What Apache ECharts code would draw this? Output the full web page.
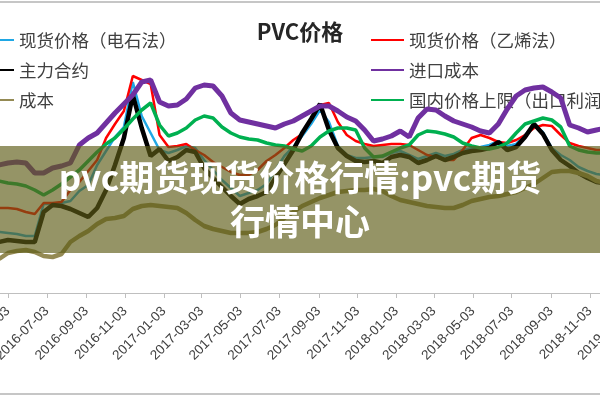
<!DOCTYPE html>
<html><head><meta charset="utf-8">
<script src="https://cdn.jsdelivr.net/npm/echarts@6/dist/echarts.min.js"></script>
<style>html,body{margin:0;padding:0;background:#fff}#c{width:600px;height:400px}</style>
</head><body><div id="c"></div>
<script>
// ---- data (sampled every 14 days starting 2016-04-19) ----
const sampleStart = '2016-04-19';
const sampleStepDays = 14;
const tickLabels = ['2016-03-03','2016-05-03','2016-07-03','2016-09-03','2016-11-03','2017-01-03','2017-03-03','2017-05-03','2017-07-03','2017-09-03','2017-11-03','2018-01-03','2018-03-03','2018-05-03','2018-07-03','2018-09-03','2018-11-03','2019-01-03'];
const seriesNames = ['现货价格（电石法）','现货价格（乙烯法）','主力合约','进口成本','成本','国内价格上限（出口利润为零）'];

const spotCarbide = [5220,5200,5180,5140,5140,5780,5780,5800,5840,6040,6160,6560,6840,7120,7320,8220,7540,7200,6860,6800,6860,6940,6900,6660,6460,6260,6100,5940,6000,6060,6180,6460,6740,6920,7140,7380,7660,7420,6940,6760,6700,6700,6720,6720,6800,6840,6760,6680,6740,6800,6740,6780,6860,6900,6920,6960,7040,6940,6980,7160,7360,7220,6900,6760,6660,6520,6440,6380,6360];
const spotEthylene = [5700,5700,5680,5620,5580,5800,5800,5820,6060,6220,6440,6660,7100,7380,7640,8340,8260,8180,7160,6920,6940,6980,6860,6760,6620,6520,6420,6360,6360,6460,6640,6760,6900,7060,7180,7460,7760,7800,7420,7160,7040,6980,6940,6960,6980,6980,6960,6860,6760,6720,6660,6660,6860,7100,7160,7100,7020,7000,7060,7160,7300,7360,7340,7160,7000,6940,6900,6860,6860];
const mainContract = [5020,5060,5040,5020,5020,5620,5760,5740,5680,5600,5520,5700,6060,6560,7100,7960,7300,6740,6880,6640,6720,6860,6820,6500,6300,6120,5940,5780,5880,5940,6020,6300,6580,6860,7200,7480,7780,7260,6900,6740,6640,6620,6640,6600,6720,6760,6720,6600,6660,6740,6660,6720,6800,6840,6860,6900,7020,6860,6920,7120,7380,7180,6860,6660,6540,6400,6300,6220,6200];
const importCost = [6560,6600,6620,6600,6400,6400,6500,6540,6600,6960,7100,7200,7400,7600,7780,7960,8220,8260,7820,7740,7760,7880,8100,8160,8140,7940,7600,7460,7420,7380,7340,7300,7380,7440,7540,7640,7740,7740,7640,7520,7440,7260,7040,7080,7140,7240,7120,7500,7680,7660,7540,7440,7380,7320,7240,7200,7380,7680,7940,8060,8100,8120,8020,7900,7360,7300,7220,7260,7300];
const productionCost = [4680,4800,4840,4860,4820,4740,4720,4780,5020,5140,5240,5380,5480,5500,5540,5680,5740,5760,5740,5720,5700,5600,5460,5340,5280,5240,5200,5200,5200,5220,5280,5360,5500,5620,5740,5820,5900,5960,6020,6040,6060,6060,6080,6040,5940,5860,5820,5780,5740,5720,5700,5700,5760,5840,5880,5920,5940,5980,6020,6100,6180,6300,6420,6440,6440,6400,6340,6240,6200];
const domesticCap = [6240,6200,6180,6140,6060,5960,6060,6180,6320,6460,6640,6820,6980,7100,7280,7480,7660,7800,7360,7140,7200,7300,7460,7540,7500,7320,7200,7120,7080,7060,7000,6960,6940,6880,6840,6940,7120,7240,7300,7300,7260,6900,6720,6740,6820,6900,6960,7160,7240,7220,7180,7120,7000,6940,6900,6880,6920,7000,7200,7380,7440,7500,7460,7320,6940,6860,6820,6800,6800];

// ---- helpers ----
function dayNum(s){const p=s.split('-').map(Number);return Date.UTC(p[0],p[1]-1,p[2])/86400000;}
const baseDay = dayNum('2016-05-03');
function fmt(dn){const d=new Date(dn*86400000);const m=d.getUTCMonth()+1,dd=d.getUTCDate();return d.getUTCFullYear()+'-'+(m<10?'0':'')+m+'-'+(dd<10?'0':'')+dd;}
const sampleDates = spotCarbide.map((_,k)=>fmt(dayNum(sampleStart)+k*sampleStepDays));
const sampleX = sampleDates.map(s=>dayNum(s)-baseDay);
const tickDays = tickLabels.map(s=>dayNum(s)-baseDay);
const labelMap = {}; tickLabels.forEach((s,i)=>{labelMap[tickDays[i]]=s;});
function pairs(arr){return arr.map((v,i)=>[sampleX[i],v]);}

const styles = [
  {c:'#1fa7e4', w:2.5},
  {c:'#ff0000', w:2.5},
  {c:'#000000', w:4.5},
  {c:'#7030a0', w:5},
  {c:'#948a54', w:4.5},
  {c:'#00b050', w:3.5}
];
const values = [spotCarbide, spotEthylene, mainContract, importCost, productionCost, domesticCap];
const order = [0,1,2,3,4,5];

const chart = echarts.init(document.getElementById('c'), null, {renderer:'canvas'});
const legendText = {fontSize:17.5, color:'#404040', fontFamily:'"Noto Sans CJK SC"', lineHeight:20};
chart.setOption({
  animation:false,
  backgroundColor:'#ffffff',
  title:{text:'PVC价格', left:'center', top:21, padding:0, textStyle:{fontSize:22, fontWeight:'bold', color:'#262626', fontFamily:'"Noto Sans CJK SC"'}},
  legend:[
    {data:[seriesNames[0],seriesNames[2],seriesNames[4]], orient:'vertical', left:-20, top:30, padding:0, itemWidth:33, itemHeight:14, itemGap:10, selectedMode:false, itemStyle:{opacity:0}, textStyle:legendText},
    {data:[seriesNames[1],seriesNames[3],seriesNames[5]], orient:'vertical', left:370, top:30, padding:0, itemWidth:33, itemHeight:14, itemGap:10, selectedMode:false, itemStyle:{opacity:0}, textStyle:legendText}
  ],
  grid:{left:-40, right:-40, top:23, height:270, containLabel:false, outerBoundsMode:'none'},
  xAxis:{type:'value', min:-75.38, max:992.46,
    axisLine:{onZero:false, lineStyle:{color:'#bfbfbf', width:1}},
    axisTick:{show:true, customValues:tickDays, length:5, lineStyle:{color:'#bfbfbf'}},
    axisLabel:{customValues:tickDays, rotate:45, margin:16, fontSize:13.5, color:'#404040', fontFamily:'"Liberation Sans"', formatter:v=>labelMap[Math.round(v)]||''},
    splitLine:{show:false}},
  yAxis:{type:'value', min:4000, max:9400, show:false, splitLine:{show:false}},
  series: order.map(i=>({
    name:seriesNames[i], type:'line', data:pairs(values[i]), symbol:'none', showSymbol:false,
    lineStyle:{color:styles[i].c, width:styles[i].w}, itemStyle:{color:styles[i].c}, z:2+i
  })),
  graphic:[
    {type:'line', shape:{x1:0,y1:2,x2:600,y2:2}, style:{stroke:'#b3b3b3', lineWidth:1.5}, silent:true},
    {type:'line', shape:{x1:0,y1:394,x2:600,y2:394}, style:{stroke:'#b3b3b3', lineWidth:1.5}, silent:true},
    {type:'rect', shape:{x:0,y:146,width:600,height:107}, style:{fill:'rgba(94,93,23,0.66)'}, z:100, silent:true},
    {type:'text', x:300, y:200, z:101, silent:true, style:{text:'pvc期货现货价格行情:pvc期货\n行情中心', fill:'#ffffff', font:'bold 35px "Noto Sans CJK SC"', align:'center', verticalAlign:'middle', textAlign:'center', textVerticalAlign:'middle', lineHeight:44}}
  ]
});
</script></body></html>
